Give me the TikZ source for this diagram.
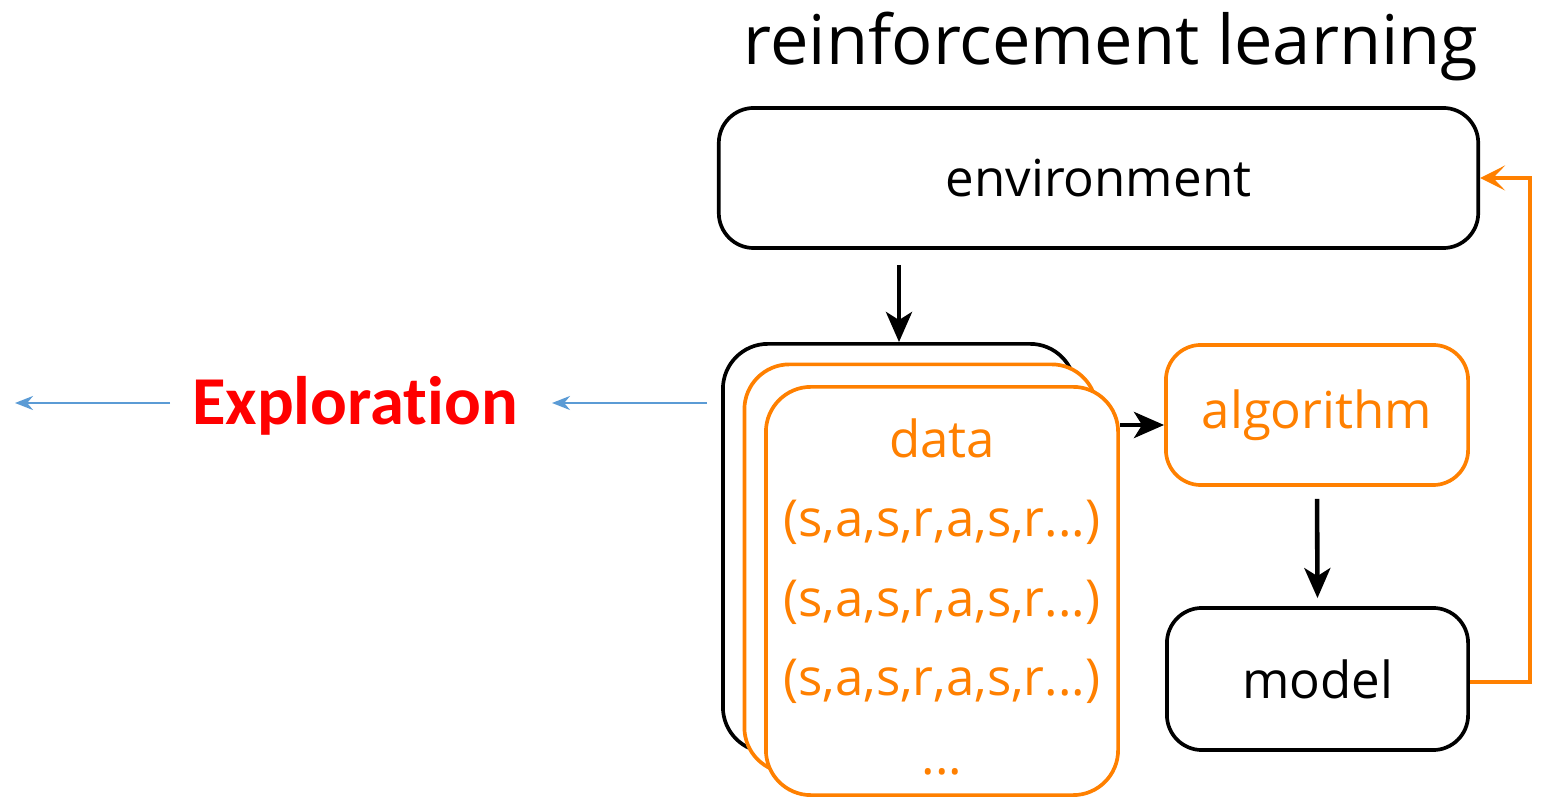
\documentclass[tikz,border=0pt]{standalone}
\usepackage{fontspec}
\setmainfont{Open Sans}
\newfontfamily\explfont[Ligatures=NoCommon]{Carlito}
\usetikzlibrary{arrows.meta}
\definecolor{rlorange}{RGB}{255,128,0}
\definecolor{rlblue}{RGB}{91,155,213}
\definecolor{rlred}{RGB}{255,0,0}
\tikzset{
  blackbox/.style={draw=black, line width=1.05pt, fill=white, rounded corners=0.35cm, align=center},
  orangebox/.style={draw=rlorange, line width=1.05pt, fill=white, rounded corners=0.35cm, align=center, text=rlorange},
  stackbox/.style={line width=1.05pt, fill=white, rounded corners=0.45cm, minimum width=3.52cm, minimum height=4.08cm},
  blackarr/.style={draw=black, line width=1.3pt, -{Stealth[length=0.3cm,width=0.26cm,inset=0.08cm]}},
  orangearr/.style={draw=rlorange, line width=1.3pt, -{Stealth[length=0.25cm,width=0.25cm,inset=0.12cm]}},
  bluearr/.style={draw=rlblue, line width=0.65pt, -{Stealth[length=0.18cm,width=0.14cm]}},
  boxtext/.style={font=\fontsize{14.5}{18}\selectfont}
}
\begin{document}
\begin{tikzpicture}[x=0.01cm,y=-0.01cm]
\useasboundingbox (0,0) rectangle (1552,798);
% title
\node[font=\fontsize{19.5}{22}\selectfont] (title) at (1111,47) {reinforcement learning};
% environment
\node[blackbox, minimum width=7.59cm, minimum height=1.40cm, boxtext] (env) at (1098.5,178) {environment};
% stacked data boxes
\node[stackbox, draw=black] (back) at (899,548) {};
\node[stackbox, draw=rlorange] (mid) at (920.5,568.5) {};
\node[stackbox, draw=rlorange] (front) at (942,591) {};
\node[text=rlorange, align=center, font=\fontsize{14.5}{22.5}\selectfont] (datatext) at (942,597)
  {data\\(s,a,s,r,a,s,r...)\\(s,a,s,r,a,s,r...)\\(s,a,s,r,a,s,r...)\\...};
% algorithm & model
\node[orangebox, minimum width=3.02cm, minimum height=1.40cm, boxtext] (algo) at (1317,415) {algorithm};
\node[blackbox, minimum width=3.01cm, minimum height=1.42cm, boxtext] (model) at (1317.5,679) {model};
% exploration
\node[font=\explfont\bfseries\fontsize{19.5}{22}\selectfont, text=rlred] (expl) at (355,406) {Exploration};
\coordinate (bstart) at (707,403);
\coordinate (bmid) at (552,403);
\coordinate (cstart) at (170,403);
\coordinate (cend) at (15,403);
% connectors
\draw[blackarr, shorten <=0.15cm] (env.south -| back.north) -- (back.north);
\draw[blackarr] ([yshift=-0.1cm]algo.west -| front.east) -- ([yshift=-0.1cm]algo.west);
\draw[blackarr, shorten <=0.12cm, shorten >=0.08cm] (algo.south) -- (model.north);
\draw[orangearr, rounded corners=0pt] ([yshift=-0.03cm]model.east) -- ++(60,0) |- (env.east);
\draw[bluearr] (bstart) -- (bmid);
\draw[bluearr] (cstart) -- (cend);
\end{tikzpicture}
\end{document}
